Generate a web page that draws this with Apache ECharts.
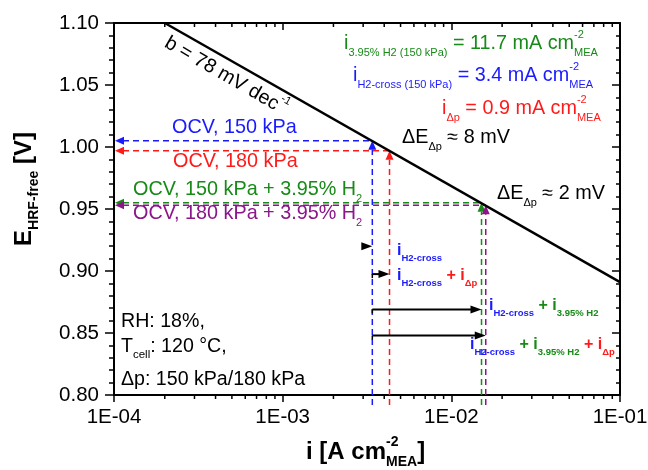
<!DOCTYPE html>
<html><head><meta charset="utf-8">
<script src="https://cdn.jsdelivr.net/npm/echarts@6/dist/echarts.min.js"></script>
<style>html,body{margin:0;padding:0;background:#fff}#c{width:648px;height:470px}</style>
</head><body><div id="c"></div>
<script>
// ---------- data ----------
const xTickLabels = ['1E-04', '1E-03', '1E-02', '1E-01'];
const xMin = 1e-4, xMax = 1e-1;
const yTickLabels = ['0.80', '0.85', '0.90', '0.95', '1.00', '1.05', '1.10'];
const yMin = 0.80, yMax = 1.10, yStep = 0.05;
const xMinorTicks = [2e-4, 3e-4, 4e-4, 5e-4, 6e-4, 7e-4, 8e-4, 9e-4,
                     2e-3, 3e-3, 4e-3, 5e-3, 6e-3, 7e-3, 8e-3, 9e-3,
                     2e-2, 3e-2, 4e-2, 5e-2, 6e-2, 7e-2, 8e-2, 9e-2];

const tafelCurrent = [2.0e-4, 1.0e-1];      // A cm-2
const tafelVoltage = [1.100, 0.891];        // V

const ocvNames = ['OCV, 150 kPa', 'OCV, 180 kPa', 'OCV, 150 kPa + 3.95% H2', 'OCV, 180 kPa + 3.95% H2'];
const ocvCurrent = [0.0034, 0.0043, 0.0151, 0.0160];
const ocvVoltage = [1.005, 0.997, 0.955, 0.953];

const shiftFrom = [0.0034, 0.0034, 0.0034, 0.0034];
const shiftTo = [0.0034, 0.0043, 0.0151, 0.0160];
const shiftVoltage = [0.920, 0.8975, 0.869, 0.848];

// ---------- styles ----------
const FF = '"Liberation Sans", Arial, Helvetica, sans-serif';
const COLORS = {k: '#000000', b: '#1a1aff', r: '#ff1a1a', g: '#178a17', p: '#8a168a'};
const ocvColors = [COLORS.b, COLORS.r, COLORS.g, COLORS.p];

function mkRich(size, sub, off, bold) {
  const w = bold ? 'bold' : 'normal';
  const h = sub + 2, L = h + 2 * off;
  const r = {};
  for (const [k, c] of Object.entries(COLORS)) {
    r[k + 'm'] = {fontSize: size, lineHeight: L, fontWeight: w, fill: c, color: c, fontFamily: FF, verticalAlign: 'middle'};
    r[k + 'b'] = {fontSize: sub, lineHeight: h, fontWeight: w, fill: c, color: c, fontFamily: FF, verticalAlign: 'bottom'};
    r[k + 'p'] = {fontSize: sub, lineHeight: h, fontWeight: w, fill: c, color: c, fontFamily: FF, verticalAlign: 'top'};
    r[k + 'z'] = Object.assign({}, r[k + 'p'], {width: 0});
  }
  return r;
}
const R19 = mkRich(19.8, 11, 8, false);
const R18 = mkRich(19.6, 11.5, 7, false);
const RB17 = mkRich(16, 9.5, 7, true);
const RT = mkRich(24, 14, 9, true);

function txt(x, y, text, rich, extra, align) {
  return Object.assign({
    type: 'text', x: x, y: y, z: 100, silent: true,
    style: {text: text, rich: rich, align: align || 'left', verticalAlign: 'middle'}
  }, extra || {});
}

const tickStyle = {color: '#000', width: 1.5};
const axisLineStyle = {show: true, onZero: false, lineStyle: {color: '#000', width: 2}};

const chart = echarts.init(document.getElementById('c'), null, {renderer: 'canvas'});
chart.setOption({
  animation: false,
  backgroundColor: '#ffffff',
  grid: {left: 114, top: 23, width: 506, height: 372, containLabel: false, outerBoundsMode: 'none'},
  xAxis: [
    {type: 'log', logBase: 10, min: xMin, max: xMax, position: 'bottom',
     axisLine: axisLineStyle,
     axisTick: {show: true, inside: false, length: 7, lineStyle: tickStyle},
     minorTick: {show: false}, splitLine: {show: false},
     axisLabel: {show: true, margin: 12, color: '#000', fontSize: 20.5, fontFamily: FF,
       formatter: v => xTickLabels[Math.round(Math.log10(v)) + 4]}},
    {type: 'log', logBase: 10, min: xMin, max: xMax, position: 'top',
     axisLine: axisLineStyle,
     axisTick: {show: true, inside: true, length: 7, lineStyle: tickStyle},
     minorTick: {show: false}, splitLine: {show: false}, axisLabel: {show: false}}
  ],
  yAxis: [
    {type: 'value', min: yMin, max: yMax, interval: yStep, position: 'left',
     axisLine: axisLineStyle,
     axisTick: {show: true, inside: false, length: 9, lineStyle: tickStyle},
     minorTick: {show: true, splitNumber: 5, length: 5, lineStyle: tickStyle},
     splitLine: {show: false},
     axisLabel: {show: true, margin: 15, color: '#000', fontSize: 20.5, fontFamily: FF,
       formatter: v => yTickLabels[Math.round((v - yMin) / yStep)]}},
    {type: 'value', min: yMin, max: yMax, interval: yStep, position: 'right',
     axisLine: axisLineStyle,
     axisTick: {show: true, inside: true, length: 8, lineStyle: tickStyle},
     minorTick: {show: true, splitNumber: 5, length: 4, lineStyle: tickStyle},
     splitLine: {show: false}, axisLabel: {show: false}}
  ],
  series: [
    // log minor ticks on bottom (outside) and top (inside)
    {type: 'custom', silent: true, clip: false, z: 6, xAxisIndex: 0, yAxisIndex: 0,
     data: xMinorTicks.map(v => [v, yMin]),
     renderItem: (params, api) => {
       const v = api.value(0);
       const b = api.coord([v, yMin]), t = api.coord([v, yMax]);
       return {type: 'group', children: [
         {type: 'line', shape: {x1: b[0], y1: b[1], x2: b[0], y2: b[1] + 4}, style: {stroke: '#000', lineWidth: 1.5}},
         {type: 'line', shape: {x1: t[0], y1: t[1], x2: t[0], y2: t[1] + 4}, style: {stroke: '#000', lineWidth: 1.5}}
       ]};
     }},
    // OCV dashed guides with arrowheads
    {type: 'custom', name: 'OCV', silent: true, clip: false, z: 3,
     data: ocvCurrent.map((c, i) => [c, ocvVoltage[i]]),
     renderItem: (params, api) => {
       const i = api.value(0), E = api.value(1), col = ocvColors[params.dataIndex];
       const p = api.coord([i, E]), pl = api.coord([xMin, E]), pb = api.coord([i, yMin]);
       const ah = 9, aw = 4;
       const ds = {stroke: col, lineWidth: 1.5, lineDash: [6, 4]};
       return {type: 'group', children: [
         {type: 'line', shape: {x1: pl[0] + ah, y1: p[1], x2: p[0], y2: p[1]}, style: ds},
         {type: 'line', shape: {x1: p[0], y1: pb[1] + 10, x2: p[0], y2: p[1] + ah}, style: ds},
         {type: 'polygon', shape: {points: [[pl[0] + 1, p[1]], [pl[0] + 1 + ah, p[1] - aw], [pl[0] + 1 + ah, p[1] + aw]]}, style: {fill: col}},
         {type: 'polygon', shape: {points: [[p[0], p[1]], [p[0] - aw, p[1] + ah], [p[0] + aw, p[1] + ah]]}, style: {fill: col}}
       ]};
     }},
    // Tafel line
    {type: 'line', name: 'Tafel', z: 4, silent: true, showSymbol: false, symbol: 'none',
     data: tafelCurrent.map((c, i) => [c, tafelVoltage[i]]),
     lineStyle: {color: '#000', width: 2.5}},
    // black current-shift arrows
    {type: 'custom', name: 'shift', silent: true, clip: false, z: 5,
     data: shiftFrom.map((c, i) => [c, shiftVoltage[i], shiftTo[i]]),
     renderItem: (params, api) => {
       const E = api.value(1);
       const p1 = api.coord([api.value(0), E]), p2 = api.coord([api.value(2), E]);
       const ah = 11, aw = 4;
       const ch = [];
       if (p2[0] - p1[0] > ah) {
         ch.push({type: 'line', shape: {x1: p1[0], y1: p1[1], x2: p2[0] - ah + 1, y2: p1[1]}, style: {stroke: '#000', lineWidth: 2}});
         ch.push({type: 'line', shape: {x1: p1[0], y1: p1[1], x2: p1[0], y2: p1[1] + 4}, style: {stroke: '#000', lineWidth: 1.5}});
       }
       ch.push({type: 'polygon', shape: {points: [[p2[0], p2[1]], [p2[0] - ah, p2[1] - aw], [p2[0] - ah, p2[1] + aw]]}, style: {fill: '#000'}});
       return {type: 'group', children: ch};
     }}
  ],
  graphic: [
    // axis titles
    txt(306, 452, '{km|i [A cm}{kz|-2}{kb|MEA}{km|]}', RT),
    txt(24, 189, '{km|E}{kb|HRF-free}{km| [V]}', RT, {rotation: Math.PI / 2}, 'center'),
    // slope label
    txt(226, 76, '{km|b = 78 mV dec}{kp|-1}', R19, {rotation: -0.524}, 'center'),
    // currents summary
    txt(344, 44, '{gm|i}{gb|3.95% H2 (150 kPa)}{gm| = 11.7 mA cm}{gz|-2}{gb|MEA}', R19),
    txt(353, 76, '{bm|i}{bb|H2-cross (150 kPa)}{bm| = 3.4 mA cm}{bz|-2}{bb|MEA}', R19),
    txt(442, 109, '{rm|i}{rb|Δp}{rm| = 0.9 mA cm}{rz|-2}{rb|MEA}', R19),
    // OCV labels
    txt(172, 128, '{bm|' + ocvNames[0] + '}', R19),
    txt(173, 162, '{rm|' + ocvNames[1] + '}', R19),
    txt(133, 190, '{gm|OCV, 150 kPa + 3.95% H}{gb|2}', R19),
    txt(133, 214, '{pm|OCV, 180 kPa + 3.95% H}{pb|2}', R19),
    // delta E
    txt(402, 138, '{km|ΔE}{kb|Δp}{km| ≈ 8 mV}', R19),
    txt(497, 194, '{km|ΔE}{kb|Δp}{km| ≈ 2 mV}', R19),
    // arrow labels
    txt(397, 251, '{bm|i}{bb|H2-cross}', RB17),
    txt(397, 276, '{bm|i}{bb|H2-cross}{rm| + i}{rb|Δp}', RB17),
    txt(489, 306, '{bm|i}{bb|H2-cross}{gm| + i}{gb|3.95% H2}', RB17),
    txt(470, 345, '{bm|i}{bb|H2-cross}{gm| + i}{gb|3.95% H2}{rm| + i}{rb|Δp}', RB17),
    // conditions
    txt(121, 322, '{km|RH: 18%,}', R18),
    txt(121, 347, '{km|T}{kb|cell}{km|: 120 °C,}', R18),
    txt(121, 380, '{km|Δp: 150 kPa/180 kPa}', R18)
  ]
});
</script>
</body></html>
